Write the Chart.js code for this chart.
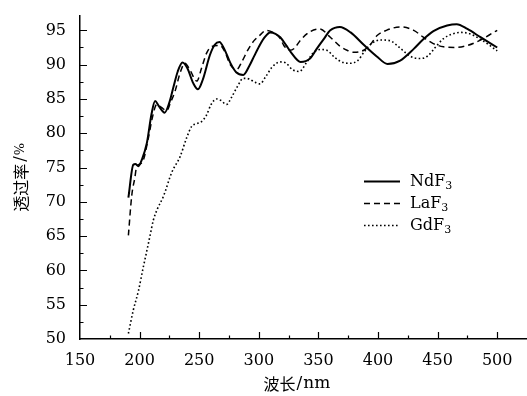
<!DOCTYPE html>
<html>
<head>
<meta charset="utf-8">
<script src="https://cdn.jsdelivr.net/npm/chart.js@4.4.0/dist/chart.umd.min.js"></script>
<style>
  html, body { margin: 0; padding: 0; background: #fff; }
  #wrap { width: 527px; height: 396px; }
</style>
</head>
<body>
<div id="wrap"><canvas id="transChart" width="527" height="396"></canvas></div>
<script>
// wavelength (nm) / transmittance (%)
const ndfX = [190.6, 194.7, 196.5, 199, 202, 206, 210, 213, 216, 221, 225, 228.5, 232, 236, 240, 245, 249, 253, 259, 263, 267, 271, 276, 281, 287, 292, 296, 301, 305, 309.5, 314, 318, 323, 327, 335, 343, 349, 354, 360, 368, 377, 388, 399, 408, 418.6, 430, 438, 446.5, 458, 466, 475, 486, 500];
const ndfY = [70.6, 75.4, 75.5, 75.2, 76.2, 78.5, 82.8, 84.7, 84.0, 83.0, 84.5, 86.8, 89.0, 90.3, 89.5, 87.3, 86.4, 87.8, 91.4, 92.9, 93.3, 92.3, 90.3, 88.9, 88.5, 89.8, 91.2, 92.9, 94.0, 94.7, 94.5, 94.0, 92.8, 91.8, 90.4, 90.9, 92.4, 93.6, 95.0, 95.5, 94.7, 92.9, 91.2, 90.1, 90.6, 92.3, 93.7, 94.9, 95.7, 95.9, 95.2, 94.0, 92.5];

const lafX = [190.6, 193.4, 196, 197.6, 200, 203, 207, 211, 214.4, 218, 222.8, 226, 229.7, 234, 238, 242, 248, 252, 256, 260, 267.5, 272, 276, 281.5, 286, 291, 296, 301, 306, 312, 318, 321, 326, 330, 334.6, 343, 351, 360, 368, 374, 380, 388, 394, 399, 407, 419, 430, 438, 446, 455, 465, 475, 485, 497, 500];
const lafY = [65.1, 70.9, 73.5, 75.2, 75.5, 76.0, 79.0, 82.5, 84.2, 83.8, 83.3, 84.5, 86.1, 88.8, 90.2, 89.3, 87.6, 89.5, 91.6, 92.6, 92.8, 91.7, 90.0, 89.3, 90.5, 92.2, 93.5, 94.3, 95.0, 94.7, 93.8, 92.8, 92.1, 92.4, 93.5, 94.8, 95.2, 94.0, 92.7, 92.1, 91.8, 92.1, 93.0, 94.2, 95.0, 95.5, 95.0, 94.0, 93.1, 92.6, 92.5, 92.8, 93.5, 94.7, 95.0];

const gdfX = [190.6, 194.7, 199, 203, 206, 208.8, 211.5, 215, 220, 227, 234, 239.6, 243.7, 248, 252, 256, 260, 264.7, 268, 273, 277, 282, 287, 292, 296, 301, 306, 311, 318, 323, 328, 334, 340, 346, 352, 357, 364, 371, 377, 383, 389, 394, 402, 410, 418, 424, 430, 436, 442, 448, 455, 463, 470, 477, 485, 493, 500];
const gdfY = [50.8, 54.2, 57.0, 60.4, 62.8, 65.1, 67.3, 69.0, 70.8, 74.3, 76.6, 79.4, 81.0, 81.4, 81.7, 82.6, 84.2, 85.0, 84.8, 84.2, 85.2, 86.8, 88.0, 87.9, 87.5, 87.2, 88.3, 89.6, 90.4, 90.2, 89.3, 89.0, 90.3, 91.8, 92.2, 92.1, 91.0, 90.3, 90.2, 90.6, 92.0, 93.0, 93.6, 93.5, 92.5, 91.6, 91.0, 90.9, 91.3, 92.5, 93.8, 94.5, 94.7, 94.5, 93.8, 92.9, 92.0];

const seriesNames = ['NdF', 'LaF', 'GdF'];
const xTicks = [150, 200, 250, 300, 350, 400, 450, 500];
const yTicks = [50, 55, 60, 65, 70, 75, 80, 85, 90, 95];

const toPoints = (xs, ys) => xs.map((x, i) => ({ x: x, y: ys[i] }));

// ticks every half step, labels only on the major ones
const withMinor = list => {
  const out = [];
  const step = list[1] - list[0];
  list.forEach(v => { out.push(v); out.push(v + step / 2); });
  out.pop();
  return out;
};

function drawParts(ctx, parts, x, y) {
  parts.forEach(p => {
    ctx.font = p.font;
    ctx.fillText(p.text, x, y + (p.dy || 0));
    x += ctx.measureText(p.text).width + (p.gap || 0);
  });
}

function partsWidth(ctx, parts) {
  let w = 0;
  parts.forEach(p => { ctx.font = p.font; w += ctx.measureText(p.text).width + (p.gap || 0); });
  return w;
}

const decor = {
  id: 'decor',
  afterDraw(chart) {
    const ctx = chart.ctx;
    const xs = chart.scales.x;
    const ys = chart.scales.y;
    const area = chart.chartArea;
    ctx.save();
    ctx.strokeStyle = '#000';
    ctx.lineWidth = 1.2;
    ctx.beginPath();
    withMinor(xTicks).forEach(v => {
      if (v === xs.min) return;
      const px = Math.round(xs.getPixelForValue(v)) + 0.5;
      const len = xTicks.includes(v) ? 7 : 3.5;
      ctx.moveTo(px, area.bottom);
      ctx.lineTo(px, area.bottom - len);
    });
    withMinor(yTicks).forEach(v => {
      if (v === ys.min) return;
      const py = Math.round(ys.getPixelForValue(v)) + 0.5;
      const len = yTicks.includes(v) ? 7 : 3.5;
      ctx.moveTo(area.left, py);
      ctx.lineTo(area.left + len, py);
    });
    ctx.stroke();

    // axis titles
    ctx.fillStyle = '#000';
    ctx.textBaseline = 'middle';
    const xTitle = [
      { text: '波长', font: '16px "Noto Sans CJK SC"', gap: 1 },
      { text: '/', font: '17px "DejaVu Serif"', gap: 1 },
      { text: 'nm', font: '17px "DejaVu Serif"' }
    ];
    const xw = partsWidth(ctx, xTitle);
    drawParts(ctx, xTitle, 297 - xw / 2, 384);

    const yTitle = [
      { text: '透过率', font: '16px "Noto Sans CJK SC"', gap: 2 },
      { text: '/', font: '16px "DejaVu Serif"', gap: 1 },
      { text: '%', font: '13px "DejaVu Serif"' }
    ];
    const yw = partsWidth(ctx, yTitle);
    ctx.translate(21, (area.top + area.bottom) / 2);
    ctx.rotate(-Math.PI / 2);
    drawParts(ctx, yTitle, -yw / 2, 0);
    ctx.setTransform(1, 0, 0, 1, 0, 0);

    // legend inside the plot
    chart.data.datasets.forEach((ds, i) => {
      const rowY = 181 + 22 * i;
      ctx.strokeStyle = ds.borderColor;
      ctx.lineWidth = ds.borderWidth;
      ctx.setLineDash(ds.borderDash || []);
      ctx.beginPath();
      ctx.moveTo(364, rowY + 0.5);
      ctx.lineTo(400, rowY + 0.5);
      ctx.stroke();
      ctx.setLineDash([]);
      drawParts(ctx, [
        { text: seriesNames[i], font: '16px "DejaVu Serif"' },
        { text: '3', font: '11px "DejaVu Serif"', dy: 4 }
      ], 410, rowY + 1);
    });
    ctx.restore();
  }
};

const ctx = document.getElementById('transChart').getContext('2d');
new Chart(ctx, {
  type: 'line',
  data: {
    datasets: [
      { label: 'NdF3', data: toPoints(ndfX, ndfY), borderColor: '#000', borderWidth: 2, borderDash: [] },
      { label: 'LaF3', data: toPoints(lafX, lafY), borderColor: '#000', borderWidth: 1.5, borderDash: [6, 4] },
      { label: 'GdF3', data: toPoints(gdfX, gdfY), borderColor: '#000', borderWidth: 1.6, borderDash: [1.6, 2.4] }
    ]
  },
  options: {
    responsive: false,
    animation: false,
    events: [],
    layout: { padding: { top: 10, right: 0, left: 0, bottom: 0 } },
    elements: {
      point: { radius: 0 },
      line: { cubicInterpolationMode: 'monotone', fill: false }
    },
    plugins: {
      legend: { display: false },
      tooltip: { enabled: false }
    },
    scales: {
      x: {
        type: 'linear',
        min: 150,
        max: 525,
        afterBuildTicks: scale => { scale.ticks = xTicks.map(v => ({ value: v })); },
        afterFit: scale => { scale.height = 57; },
        grid: { display: false },
        border: { display: true, color: '#000', width: 1.5 },
        ticks: {
          color: '#000',
          padding: 4,
          maxRotation: 0,
          autoSkip: false,
          font: { family: 'DejaVu Serif', size: 16 },
          callback: v => String(v)
        }
      },
      y: {
        type: 'linear',
        min: 50,
        max: 97.15,
        afterBuildTicks: scale => { scale.ticks = yTicks.map(v => ({ value: v })); },
        afterFit: scale => { scale.width = 80; },
        grid: { display: false },
        border: { display: true, color: '#000', width: 1.5 },
        ticks: {
          color: '#000',
          padding: 6,
          autoSkip: false,
          font: { family: 'DejaVu Serif', size: 16 },
          callback: v => String(v)
        }
      }
    }
  },
  plugins: [decor]
});
</script>
</body>
</html>
